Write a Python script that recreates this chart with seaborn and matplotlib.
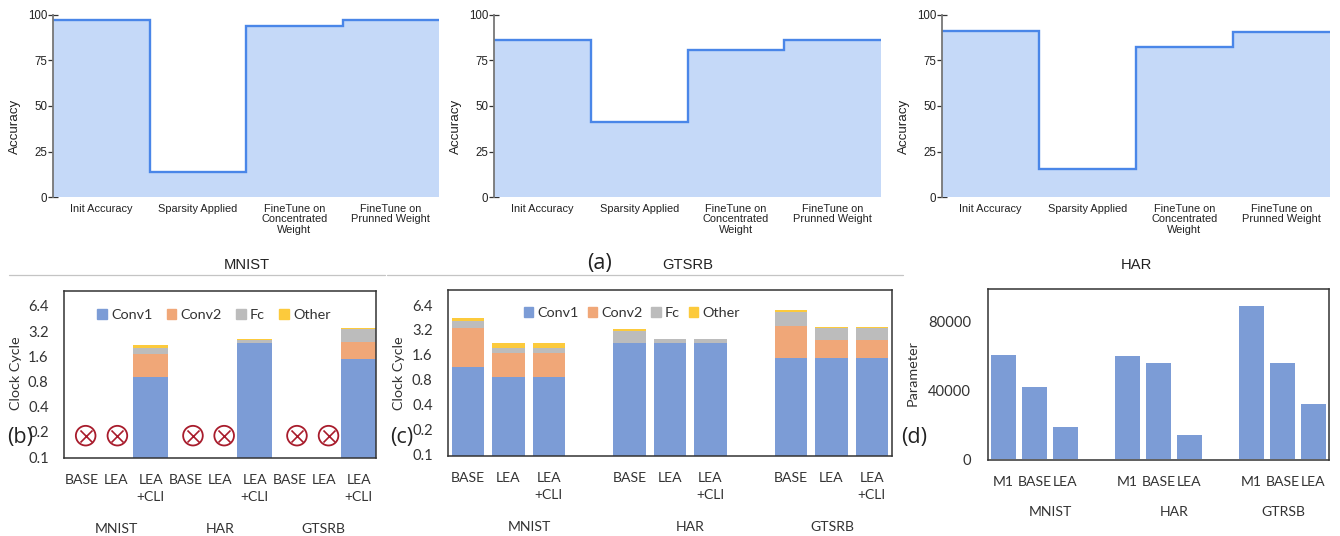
import numpy as np
import pandas as pd
import matplotlib
matplotlib.use('Agg')
import matplotlib.pyplot as plt
from matplotlib.lines import Line2D
from matplotlib.patches import Patch
import seaborn as sns

W, H = 1340, 536

# top row: accuracy per stage
stages = ['Init Accuracy', 'Sparsity Applied', 'FineTune on\nConcentrated\nWeight', 'FineTune on\nPrunned Weight']
acc_mnist = [97.3, 14.0, 93.6, 97.3]
acc_gtsrb = [86.2, 41.2, 80.8, 86.2]
acc_har = [91.0, 15.5, 82.5, 90.5]
acc_ticks = [0, 25, 50, 75, 100]

# (b) stacked clock cycles, running tops of each layer (only LEA+CLI ran)
b_labels = ['BASE', 'LEA', 'LEA\n+CLI'] * 3
b_slots = [2, 5, 8]
b_conv1 = [0.9, 2.3, 1.5]
b_conv2 = [1.7, 2.33, 2.4]
b_fc = [2.0, 2.5, 3.35]
b_other = [2.2, 2.6, 3.5]
b_failed = [0.125, 1.04, 3.22, 4.12, 6.22, 7.13]

# (c) same, all variants
c_labels = ['BASE', 'LEA', 'LEA\n+CLI', '', 'BASE', 'LEA', 'LEA\n+CLI', '', 'BASE', 'LEA', 'LEA\n+CLI']
c_slots = [0, 1, 2, 4, 5, 6, 8, 9, 10]
c_conv1 = [1.15, 0.87, 0.87, 2.2, 2.2, 2.2, 1.45, 1.45, 1.45]
c_conv2 = [3.4, 1.66, 1.66, 2.22, 2.22, 2.22, 3.6, 2.4, 2.4]
c_fc = [4.1, 1.95, 1.95, 3.1, 2.45, 2.45, 5.3, 3.4, 3.4]
c_other = [4.4, 2.2, 2.2, 3.3, 2.5, 2.5, 5.5, 3.5, 3.5]

# (d) parameter counts
d_labels = ['M1', 'BASE', 'LEA', '', 'M1', 'BASE', 'LEA', '', 'M1', 'BASE', 'LEA']
d_slots = [0, 1, 2, 4, 5, 6, 8, 9, 10]
d_params = [60600, 41800, 18600, 60000, 56000, 14000, 89300, 56000, 32300]

log_ticks = [0.1, 0.2, 0.4, 0.8, 1.6, 3.2, 6.4]
layer_names = ['Conv1', 'Conv2', 'Fc', 'Other']
layer_colors = ['#7c9cd6', '#f0a778', '#bcbcbc', '#fcca3c']

sns.set_theme(style='white')
SANS = 'Liberation Sans'
SOFT = 'Lato'
plt.rcParams['font.family'] = SANS


def px_axes(fig, x0, y0, x1, y1):
    # pixel box with y counted from the top
    return fig.add_axes([x0 / W, 1 - y1 / H, (x1 - x0) / W, (y1 - y0) / H])


def px_text(fig, x, y, s, **kw):
    kw.setdefault('ha', 'center')
    kw.setdefault('va', 'center')
    fig.text(x / W, 1 - y / H, s, **kw)


def plot_accuracy(fig, box, values, label_x):
    ax = px_axes(fig, *box)
    edges = np.arange(len(values) + 1) - 0.5
    sns.histplot(x=np.arange(len(values)), weights=values, discrete=True, element='step',
                 fill=True, color='#c5d9f8', alpha=1, linewidth=0, ax=ax)
    ax.stairs(values, edges, baseline=None, color='#4a86e8', linewidth=1.7)
    ax.set_xlim(-0.5, 3.5)
    ax.set_ylim(0, 100)
    ax.set_yticks(acc_ticks)
    ax.set_xticks(range(4))
    ax.set_xticklabels(stages, fontsize=7.9, color='#222222', linespacing=1.02)
    ax.tick_params(axis='x', length=0, pad=5)
    ax.tick_params(axis='y', direction='inout', length=7.5, width=0.9, color='#333333',
                   labelsize=8.3, labelcolor='#222222', pad=0.5, left=True)
    ax.set_ylabel('')
    ax.patch.set_alpha(0)
    sns.despine(ax=ax, bottom=True)
    ax.spines['left'].set_color('#777777')
    ax.spines['left'].set_linewidth(1.3)
    px_text(fig, label_x, 126, 'Accuracy', rotation=90, fontsize=9.6, color='#222222')
    return ax


def frame(ax):
    for s in ax.spines.values():
        s.set_visible(True)
        s.set_color('#333333')
        s.set_linewidth(1.1)


def draw_bars(ax, slots, tops, color, n, width):
    df = pd.DataFrame({'slot': slots, 'top': tops})
    sns.barplot(data=df, x='slot', y='top', order=list(range(n)), color=color, saturation=1,
                width=width, errorbar=None, linewidth=0, ax=ax)


def finish_bottom(ax, n, labels):
    ax.set_xlim(-0.5, n - 0.5)
    ax.set_xticks(range(n))
    ax.set_xticklabels(labels, fontsize=10.1, family=SOFT, color='#333333', linespacing=1.47)
    ax.tick_params(axis='x', length=0, pad=11.5)
    ax.tick_params(axis='y', length=0, pad=11, labelsize=10.6, labelcolor='#333333')
    for lab in ax.get_yticklabels():
        lab.set_family(SOFT)
    ax.set_xlabel('')
    ax.set_ylabel('')
    frame(ax)


def plot_stacked(fig, box, n, slots, layers, labels, width, ylim):
    ax = px_axes(fig, *box)
    ax.set_yscale('log', base=2)
    # tallest layer first, the lower ones paint over it
    for tops, color in reversed(list(zip(layers, layer_colors))):
        draw_bars(ax, slots, tops, color, n, width)
    ax.set_yscale('log', base=2)
    ax.set_ylim(*ylim)
    ax.set_yticks(log_ticks)
    ax.set_yticklabels([str(t) for t in log_ticks])
    ax.minorticks_off()
    finish_bottom(ax, n, labels)
    return ax


def add_legend(fig, cx, cy, spacing):
    handles = [Patch(color=c, label=l) for c, l in zip(layer_colors, layer_names)]
    fig.legend(handles=handles, loc='center', bbox_to_anchor=(cx / W, 1 - cy / H), ncol=4, frameon=False,
               handlelength=0.65, handleheight=0.65, handletextpad=0.3, columnspacing=spacing,
               prop={'family': SOFT, 'size': 10.4}, labelcolor='#333333')


fig = plt.figure(figsize=(W / 100, H / 100), dpi=100, facecolor='white')

plot_accuracy(fig, (53, 14.7, 439, 197.3), acc_mnist, 15)
plot_accuracy(fig, (494, 14.7, 881, 197.3), acc_gtsrb, 456)
plot_accuracy(fig, (942, 14.7, 1330, 197.3), acc_har, 904)

# section headers
px_text(fig, 247, 265, 'MNIST', fontsize=10.6, color='#222222')
px_text(fig, 688, 265, 'GTSRB', fontsize=10.6, color='#222222')
px_text(fig, 1136, 265, 'HAR', fontsize=10.6, color='#222222')
px_text(fig, 599, 263, '(a)', fontsize=15.5, family='Open Sans', color='#222222')
fig.add_artist(Line2D([9 / W, 385 / W], [1 - 275 / H] * 2, color='#c4c4c4', lw=0.9))
fig.add_artist(Line2D([387 / W, 903 / W], [1 - 274.5 / H] * 2, color='#c4c4c4', lw=0.9))

# (b)
ax_b = plot_stacked(fig, (64, 291, 376, 458), 9, b_slots, [b_conv1, b_conv2, b_fc, b_other],
                    b_labels, 1.0, (0.0973, 9.67))
fail_y = [0.18] * len(b_failed)
sns.scatterplot(x=b_failed, y=fail_y, marker='o', s=200, facecolor='none', edgecolor='#a81c2c',
                linewidth=1.3, ax=ax_b, zorder=5)
ax_b.scatter(b_failed, fail_y, marker='x', s=75, color='#a81c2c', linewidth=1.2, zorder=5)
ax_b.set_xlim(-0.5, 8.5)
add_legend(fig, 214, 315, 1.0)

# (c)
ax_c = plot_stacked(fig, (448, 290, 892, 456), 11, c_slots, [c_conv1, c_conv2, c_fc, c_other],
                    c_labels, 0.8, (0.0946, 9.73))
add_legend(fig, 632, 313, 0.6)

# (d)
ax_d = px_axes(fig, 988, 289, 1329, 460)
draw_bars(ax_d, d_slots, d_params, layer_colors[0], 11, 0.8)
ax_d.set_ylim(-400, 99000)
ax_d.set_yticks([0, 40000, 80000])
finish_bottom(ax_d, 11, d_labels)
ax_d.tick_params(axis='y', pad=12)

# group names and side labels
for x, y, s in [(116, 529, 'MNIST'), (220, 529, 'HAR'), (323, 529, 'GTSRB'),
                (529, 527, 'MNIST'), (690, 527, 'HAR'), (832, 527, 'GTSRB'),
                (1050, 512, 'MNIST'), (1174, 512, 'HAR'), (1283, 512, 'GTRSB')]:
    px_text(fig, x, y, s, fontsize=10.1, family=SOFT, color='#333333')
px_text(fig, 16, 373, 'Clock Cycle', rotation=90, fontsize=10.4, family=SOFT, color='#333333')
px_text(fig, 399, 373, 'Clock Cycle', rotation=90, fontsize=10.4, family=SOFT, color='#333333')
px_text(fig, 913, 373, 'Parameter', rotation=90, fontsize=10.4, family=SOFT, color='#333333')
for x, s in [(20, '(b)'), (402, '(c)'), (914, '(d)')]:
    px_text(fig, x, 437, s, fontsize=15.5, family='Open Sans', color='#222222')

fig.savefig('out.png', dpi=100)
